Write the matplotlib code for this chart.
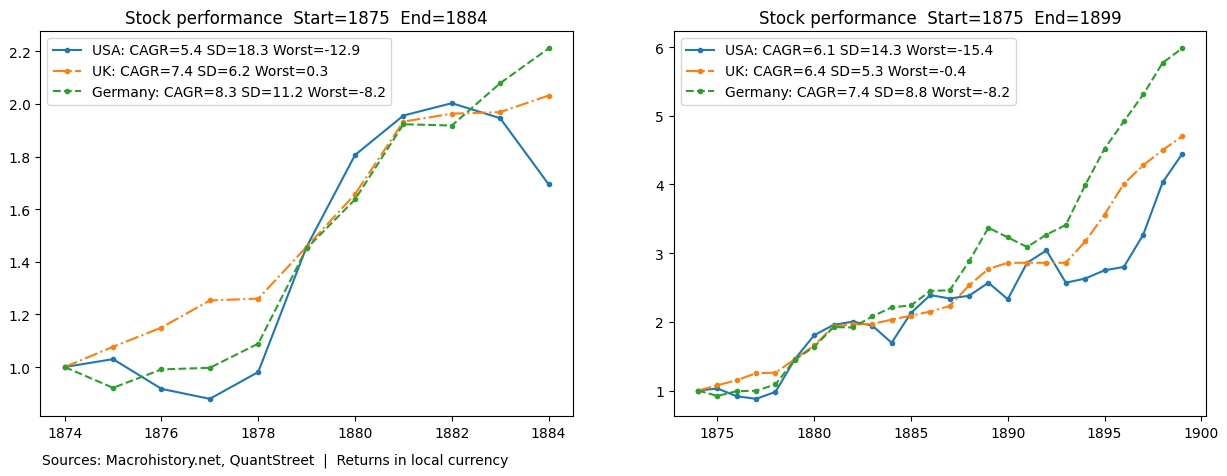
import matplotlib
matplotlib.use("Agg")
import matplotlib.pyplot as plt

# cumulative growth of 1 unit
years_short = list(range(1874, 1885))
years_long = list(range(1874, 1900))

usa = [1.00, 1.03, 0.917, 0.879, 0.981, 1.457, 1.806, 1.956, 2.003, 1.946, 1.695,
       2.13, 2.39, 2.34, 2.38, 2.57, 2.33, 2.86, 3.04, 2.57, 2.63, 2.75, 2.80, 3.27, 4.03, 4.44]
uk = [1.00, 1.077, 1.150, 1.253, 1.260, 1.457, 1.657, 1.933, 1.963, 1.969, 2.032,
      2.09, 2.15, 2.23, 2.53, 2.77, 2.86, 2.86, 2.86, 2.86, 3.17, 3.56, 4.01, 4.28, 4.50, 4.70]
germany = [1.00, 0.921, 0.991, 0.997, 1.089, 1.451, 1.637, 1.923, 1.918, 2.079, 2.211,
           2.24, 2.45, 2.46, 2.88, 3.37, 3.23, 3.09, 3.27, 3.41, 3.99, 4.52, 4.92, 5.31, 5.77, 5.98]

labels_short = ["USA: CAGR=5.4 SD=18.3 Worst=-12.9",
                "UK: CAGR=7.4 SD=6.2 Worst=0.3",
                "Germany: CAGR=8.3 SD=11.2 Worst=-8.2"]
labels_long = ["USA: CAGR=6.1 SD=14.3 Worst=-15.4",
               "UK: CAGR=6.4 SD=5.3 Worst=-0.4",
               "Germany: CAGR=7.4 SD=8.8 Worst=-8.2"]

styles = ["-", "-.", "--"]

fig, axes = plt.subplots(1, 2, figsize=(12.27, 4.77), dpi=100)
fig.subplots_adjust(left=0.033, right=0.983, top=0.933, bottom=0.125, wspace=0.19)

n = len(years_short)
for series, lab, ls in zip([usa, uk, germany], labels_short, styles):
    axes[0].plot(years_short, series[:n], ls, marker=".", label=lab)
axes[0].set_title("Stock performance  Start=1875  End=1884")
axes[0].set_xticks(range(1874, 1885, 2))
axes[0].legend(loc="upper left")

for series, lab, ls in zip([usa, uk, germany], labels_long, styles):
    axes[1].plot(years_long, series, ls, marker=".", label=lab)
axes[1].set_title("Stock performance  Start=1875  End=1899")
axes[1].legend(loc="upper left")

fig.text(0.034, 0.027, "Sources: Macrohistory.net, QuantStreet  |  Returns in local currency",
         fontsize=10)

plt.savefig("out.png")
